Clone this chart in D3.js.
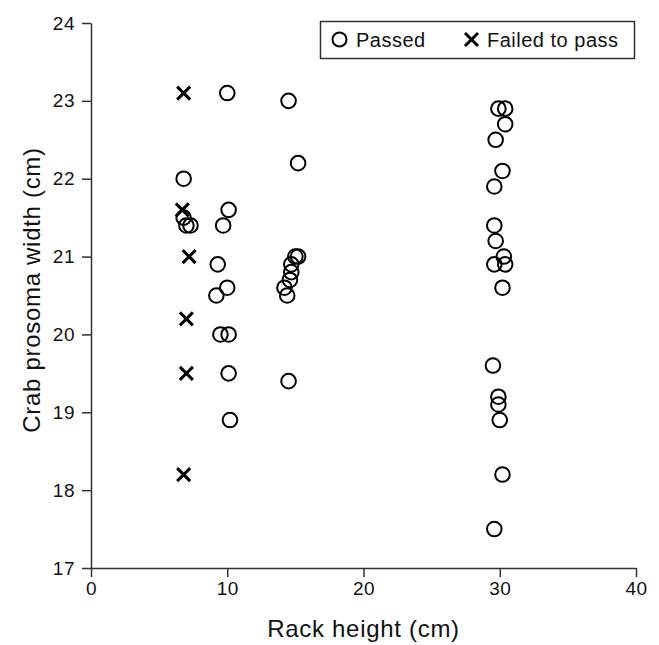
<!DOCTYPE html>
<html>
<head>
<meta charset="utf-8">
<script src="https://cdn.jsdelivr.net/npm/d3@7"></script>
<style>
  body { margin: 0; background: #fff; }
  text { font-family: "Liberation Sans", Arial, sans-serif; fill: #111; }
</style>
</head>
<body>
<svg id="chart"></svg>
<script>
// passed crabs: rack height (cm), prosoma width (cm)
const passedX = [6.8, 6.8, 7.0, 7.3,
                 10.0, 10.1, 9.7, 9.3, 10.0, 9.2, 9.5, 10.1, 10.1, 10.2,
                 14.5, 15.2, 15.0, 15.2, 14.7, 14.7, 14.6, 14.2, 14.4, 14.5,
                 29.9, 30.4, 30.4, 29.7, 30.2, 29.6, 29.6, 29.7, 30.3, 29.6, 30.4, 30.2,
                 29.5, 29.9, 29.9, 30.0, 30.2, 29.6];
const passedY = [22.0, 21.5, 21.4, 21.4,
                 23.1, 21.6, 21.4, 20.9, 20.6, 20.5, 20.0, 20.0, 19.5, 18.9,
                 23.0, 22.2, 21.0, 21.0, 20.9, 20.8, 20.7, 20.6, 20.5, 19.4,
                 22.9, 22.9, 22.7, 22.5, 22.1, 21.9, 21.4, 21.2, 21.0, 20.9, 20.9, 20.6,
                 19.6, 19.2, 19.1, 18.9, 18.2, 17.5];
// failed crabs
const failedX = [6.8, 6.7, 7.2, 7.0, 7.0, 6.8];
const failedY = [23.1, 21.6, 21.0, 20.2, 19.5, 18.2];

const xTicks = [0, 10, 20, 30, 40];
const yTicks = [17, 18, 19, 20, 21, 22, 23, 24];
const legendLabels = ["Passed", "Failed to pass"];

const width = 659, height = 645;
const margin = {top: 23, right: 23, bottom: 77, left: 91};

const svg = d3.select("#chart").attr("width", width).attr("height", height);

const x = d3.scaleLinear().domain([0, 40]).range([margin.left, width - margin.right]);
const y = d3.scaleLinear().domain([17, 24]).range([height - margin.bottom, margin.top]);

// axes
const xAxis = svg.append("g")
    .attr("transform", `translate(0,${y(17)})`)
    .call(d3.axisBottom(x).tickValues(xTicks).tickFormat(d3.format("d"))
        .tickSize(9).tickSizeOuter(0).tickPadding(5));
const yAxis = svg.append("g")
    .attr("transform", `translate(${x(0)},0)`)
    .call(d3.axisLeft(y).tickValues(yTicks).tickFormat(d3.format("d"))
        .tickSize(9).tickSizeOuter(0).tickPadding(7));

[xAxis, yAxis].forEach(a => {
    a.selectAll("path, line").attr("stroke", "#333").attr("stroke-width", 1.5);
    a.selectAll("text").style("font-size", "19px").style("letter-spacing", "0.5px").attr("fill", "#111");
});

// axis titles
svg.append("text")
    .attr("x", x(20)).attr("y", 637)
    .attr("text-anchor", "middle")
    .style("font-size", "24px").style("letter-spacing", "0.7px")
    .text("Rack height (cm)");
svg.append("text")
    .attr("transform", `translate(40,290) rotate(-90)`)
    .attr("text-anchor", "middle")
    .style("font-size", "24px").style("letter-spacing", "0.7px")
    .text("Crab prosoma width (cm)");

// marks
const passed = passedX.map((v, i) => ({x: v, y: passedY[i]}));
const failed = failedX.map((v, i) => ({x: v, y: failedY[i]}));

svg.append("g").selectAll("circle")
    .data(passed)
    .join("circle")
    .attr("cx", d => x(d.x))
    .attr("cy", d => y(d.y))
    .attr("r", 7.3)
    .attr("fill", "none")
    .attr("stroke", "#000")
    .attr("stroke-width", 2);

const cross = "M-6.5,-6.5L6.5,6.5M-6.5,6.5L6.5,-6.5";
svg.append("g").selectAll("path")
    .data(failed)
    .join("path")
    .attr("transform", d => `translate(${x(d.x)},${y(d.y)})`)
    .attr("d", cross)
    .attr("stroke", "#000")
    .attr("stroke-width", 3);

// legend
const legend = svg.append("g");
legend.append("rect")
    .attr("x", 320.5).attr("y", 21.5)
    .attr("width", 314).attr("height", 37)
    .attr("fill", "#fff").attr("stroke", "#333").attr("stroke-width", 1.5);
legend.append("circle")
    .attr("cx", 339.5).attr("cy", 39.5).attr("r", 7)
    .attr("fill", "none").attr("stroke", "#000").attr("stroke-width", 2);
legend.append("text")
    .attr("x", 356).attr("y", 47).style("font-size", "20px").style("letter-spacing", "0.5px")
    .text(legendLabels[0]);
legend.append("path")
    .attr("transform", "translate(471.5,39.5)")
    .attr("d", cross)
    .attr("stroke", "#000").attr("stroke-width", 3);
legend.append("text")
    .attr("x", 487).attr("y", 47).style("font-size", "20px").style("letter-spacing", "0.5px")
    .text(legendLabels[1]);
</script>
</body>
</html>
